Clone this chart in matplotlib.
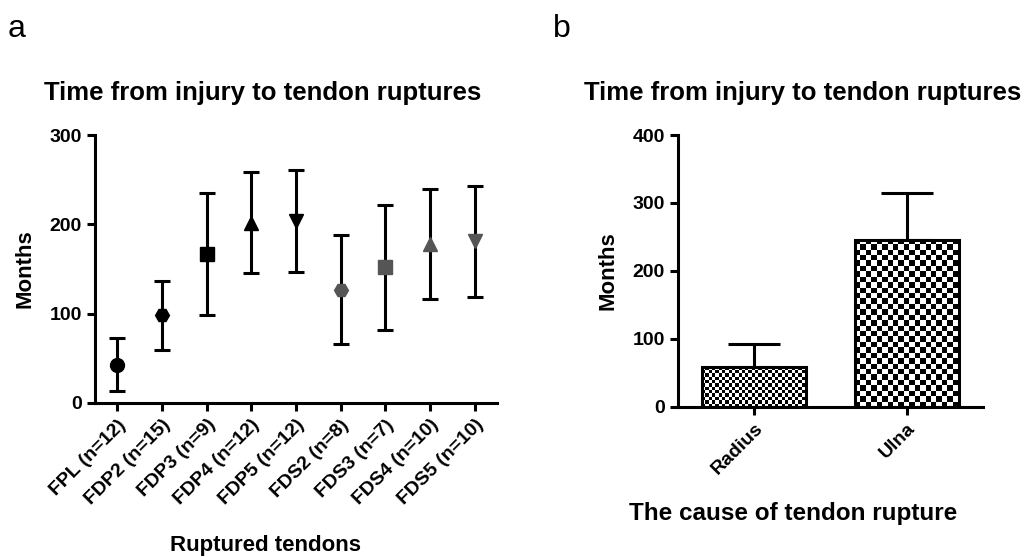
import numpy as np
import matplotlib
matplotlib.use('Agg')
import matplotlib.pyplot as plt

plt.rcParams['font.family'] = ['Liberation Sans', 'DejaVu Sans']
plt.rcParams['font.weight'] = 'bold'

# panel a data: mean and error (months)
tendons = ['FPL (n=12)', 'FDP2 (n=15)', 'FDP3 (n=9)', 'FDP4 (n=12)', 'FDP5 (n=12)',
           'FDS2 (n=8)', 'FDS3 (n=7)', 'FDS4 (n=10)', 'FDS5 (n=10)']
tendon_mean = [43, 98, 167, 202, 204, 127, 152, 178, 181]
tendon_err = [30, 39, 68, 57, 57, 61, 70, 62, 62]
tendon_marker = ['o', 'H', 's', '^', 'v', 'H', 's', '^', 'v']
tendon_color = ['black'] * 5 + ['#555555'] * 4

# panel b data
causes = ['Radius', 'Ulna']
cause_mean = [59, 246]
cause_err = [33, 69]

fig = plt.figure(figsize=(10.31, 5.57), dpi=100)
ax1 = fig.add_axes([0.0921, 0.2765, 0.3899, 0.4811])
ax2 = fig.add_axes([0.6576, 0.2698, 0.2959, 0.4878])

lw = 2.2

def style(ax):
    for s in ['top', 'right']:
        ax.spines[s].set_visible(False)
    for s in ['left', 'bottom']:
        ax.spines[s].set_linewidth(lw)
    ax.tick_params(width=lw, length=6, labelsize=14, direction='out')
    ax.set_ylabel('Months', fontsize=16, fontweight='bold', labelpad=10)

# --- panel a ---
for i in range(len(tendons)):
    ax1.errorbar(i, tendon_mean[i], yerr=tendon_err[i], fmt='none', ecolor='black',
                 elinewidth=lw, capsize=5.5, capthick=lw, zorder=2)
    ax1.plot(i, tendon_mean[i], marker=tendon_marker[i], color=tendon_color[i],
             markersize=10, linestyle='none', zorder=3)
ax1.set_xlim(-0.5, 8.5)
ax1.set_ylim(0, 300)
ax1.set_yticks([0, 100, 200, 300])
ax1.set_xticks(range(len(tendons)))
ax1.set_xticklabels(tendons, rotation=45, ha='right', rotation_mode='anchor')
style(ax1)

# --- panel b ---
xs = np.arange(len(causes))
bars = ax2.bar(xs, cause_mean, width=0.68, facecolor='none', edgecolor='black',
               linewidth=lw, zorder=3)
ax2.errorbar(xs, cause_mean, yerr=[[0, 0], cause_err], fmt='none', ecolor='black',
             elinewidth=lw, capsize=19, capthick=lw, zorder=1)

# checkerboard fills (cell size in data units)
cells = [(0.0217, 4.86), (0.0355, 7.95)]
for b, (cx, cy) in zip(bars, cells):
    x0 = b.get_x()
    w = b.get_width()
    h = b.get_height()
    nc = int(np.ceil(w / cx))
    nr = int(np.ceil(h / cy))
    ii, jj = np.indices((nr, nc))
    board = (ii + jj) % 2
    im = ax2.imshow(board, cmap='gray', extent=(x0, x0 + nc * cx, 0, nr * cy),
                    origin='lower', interpolation='nearest', aspect='auto', zorder=2)
    im.set_clip_path(b)

ax2.set_xlim(-0.5, 1.5)
ax2.set_ylim(0, 400)
ax2.set_yticks([0, 100, 200, 300, 400])
ax2.set_xticks(xs)
ax2.set_xticklabels(causes, rotation=45, ha='right', rotation_mode='anchor')
style(ax2)

# titles and labels
fig.text(263 / 1031, 1 - 100 / 557, 'Time from injury to tendon ruptures',
         ha='center', va='baseline', fontsize=18.5, fontweight='bold')
fig.text(803 / 1031, 1 - 100 / 557, 'Time from injury to tendon ruptures',
         ha='center', va='baseline', fontsize=18.5, fontweight='bold')
fig.text(8 / 1031, 1 - 37 / 557, 'a', fontsize=23, fontweight='normal', va='baseline')
fig.text(553 / 1031, 1 - 37 / 557, 'b', fontsize=23, fontweight='normal', va='baseline')
fig.text(265 / 1031, 1 - 551 / 557, 'Ruptured tendons', ha='center', va='baseline',
         fontsize=16, fontweight='bold')
fig.text(793 / 1031, 1 - 520 / 557, 'The cause of tendon rupture', ha='center',
         va='baseline', fontsize=17.5, fontweight='bold')

fig.savefig('out.png', dpi=100)
